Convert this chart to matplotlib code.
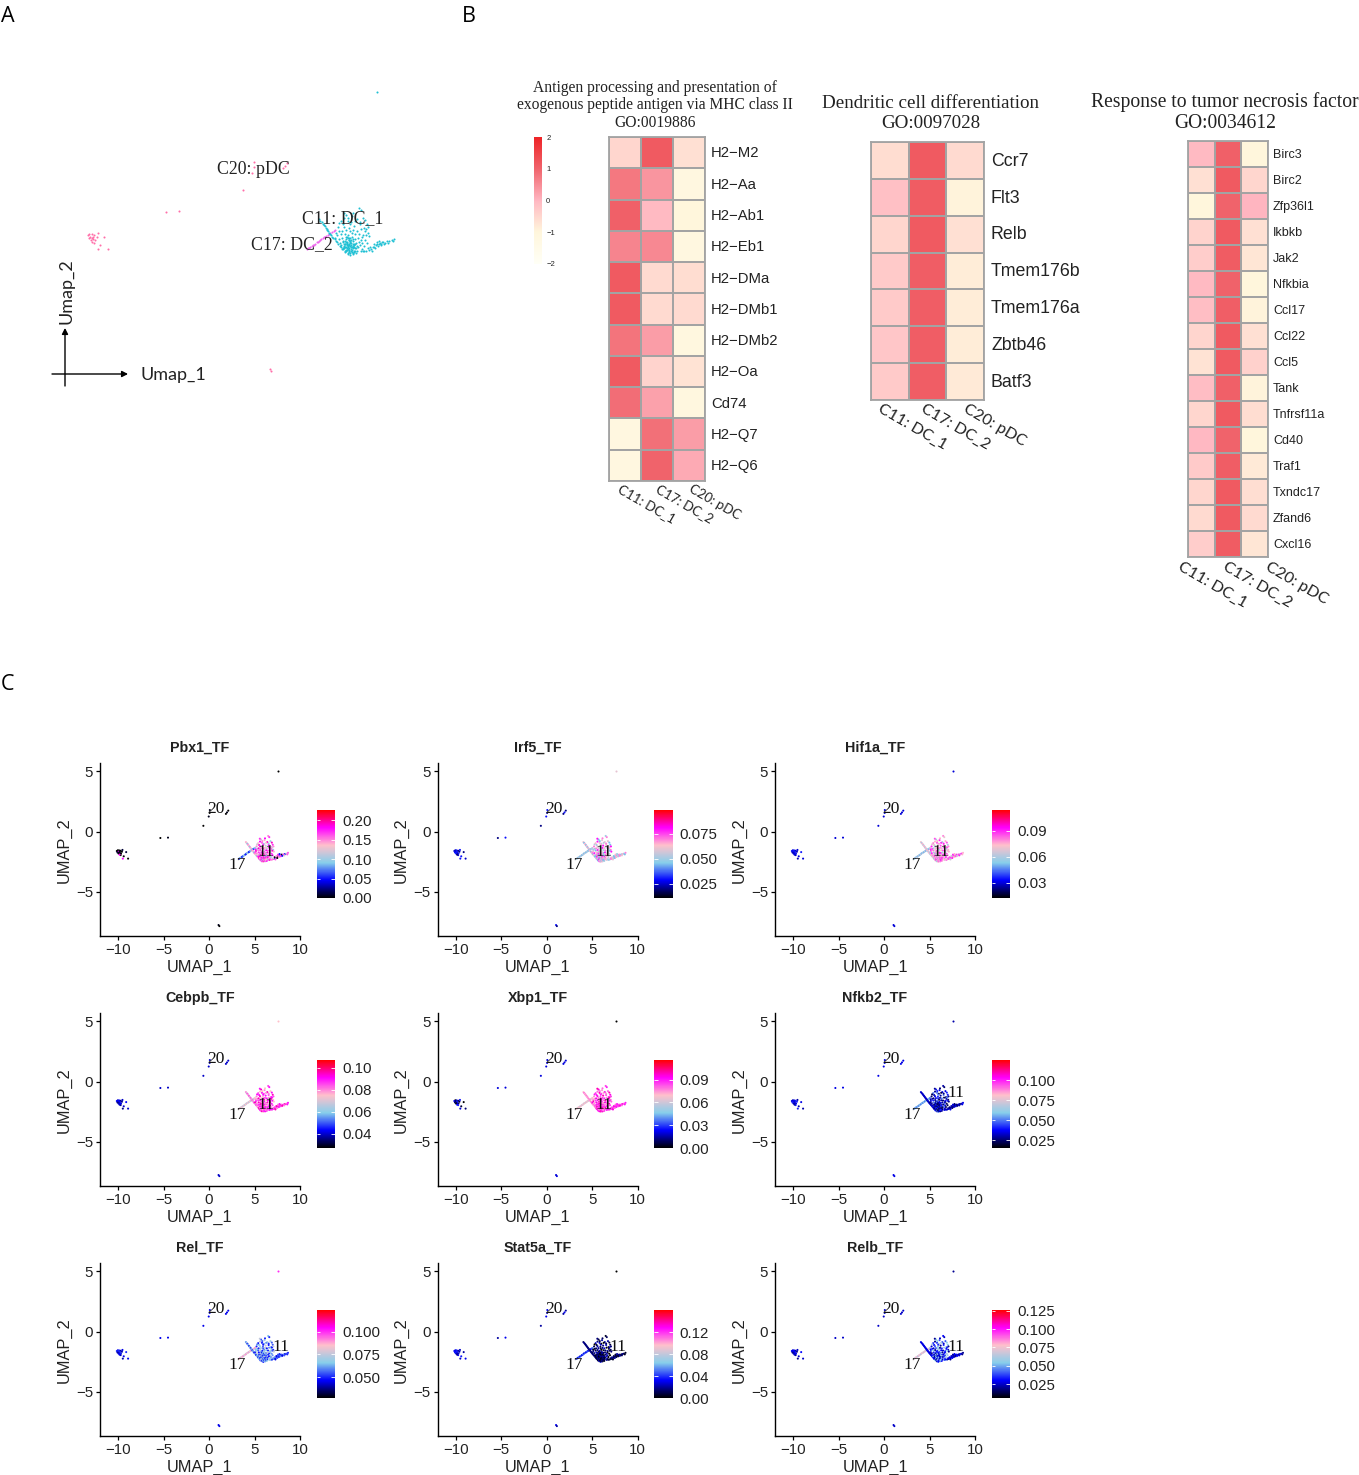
import matplotlib
matplotlib.use("Agg")
import matplotlib.pyplot as plt
from matplotlib.colors import LinearSegmentedColormap, Normalize
from matplotlib.cm import ScalarMappable

W, H = 1359, 1475

# ---------- cell coordinates in UMAP space ----------
left_x = [-10.04,-9.90,-9.73,-9.53,-10.0,-9.90,-9.79,-9.69,-9.73,-9.39,-9.12,-9.49,-8.91,-9.83,-9.59,-9.96,-10.15,-10.08,-9.85]
left_y = [-1.54,-1.55,-1.58,-1.51,-1.66,-1.74,-1.78,-1.81,-1.94,-2.04,-1.69,-2.23,-2.23,-1.66,-1.66,-1.81,-1.6,-1.72,-1.9]
mid_x = [-5.36,-4.52,-0.63,0.08,0.06,-0.04,2.11,1.97,1.85,1.04,1.13]
mid_y = [-0.52,-0.49,0.49,1.80,1.56,1.26,1.75,1.60,1.48,-7.74,-7.83]
top_x = [7.63]
top_y = [5.0]
arm17_x = [3.30,3.38,3.45,3.52,3.60,3.68,3.75,3.83,3.90,3.98,4.05,4.12,4.20,4.27,4.35,4.42,4.50,4.58,4.65,4.75,4.85,4.95,5.05]
arm17_y = [-2.25,-2.20,-2.17,-2.13,-2.10,-2.05,-2.03,-1.98,-1.93,-1.90,-1.86,-1.80,-1.77,-1.74,-1.70,-1.66,-1.62,-1.58,-1.54,-1.50,-1.45,-1.40,-1.35]
arm11_x = [4.05,4.13,4.21,4.27,4.33,4.39,4.45,4.51,4.57,4.63,4.69,4.75,4.81,4.87,4.93,5.00,5.08,5.16,5.24,5.32,5.40,5.48]
arm11_y = [-0.86,-0.93,-1.00,-1.06,-1.12,-1.18,-1.24,-1.30,-1.36,-1.42,-1.48,-1.54,-1.60,-1.66,-1.72,-1.79,-1.86,-1.93,-2.00,-2.07,-2.14,-2.22]
core_x = [6.50,6.62,6.10,5.72,5.60,5.82,6.02,5.50,5.22,5.60,5.92,6.22,6.55,6.82,5.30,5.45,5.70,5.95,6.15,6.35,6.60,6.85,7.05,5.15,5.40,5.62,5.85,6.05,6.28,6.48,6.72,6.95,5.25,5.48,5.68,5.78,5.92,6.08,6.25,6.42,6.62,6.88,5.35,5.52,5.64,5.74,5.86,5.98,6.12,6.30,6.50,6.70,5.42,5.56,5.66,5.76,5.84,5.94,6.04,6.18,6.36,6.58,6.80,5.50,5.60,5.70,5.80,5.90,6.00,6.14,6.26,6.44,6.66,5.62,5.74,5.88,6.02,6.20,6.40,6.62,6.84,5.80,5.96,6.16,6.34,
          5.55,5.63,5.71,5.79,5.87,5.95,6.03,6.11,6.19,6.27,5.58,5.66,5.74,5.82,5.90,5.98,6.06,6.14,6.22,6.30,5.52,5.60,5.68,5.76,5.84,5.92,6.00,6.08,6.16,6.24,5.65,5.73,5.81,5.89,5.97,6.05,6.13,6.21,5.72,5.80,5.88,5.96,6.04,6.12,7.00,7.12,6.92,6.98,6.76,6.55,6.40,5.85,5.58,5.40,5.28,5.12,5.05,6.75,6.90,7.08,5.95,6.28,6.70,6.15]
core_y = [-0.35,-0.45,-0.70,-0.65,-0.82,-0.92,-1.0,-1.10,-1.22,-1.2,-1.25,-1.15,-1.1,-1.28,-1.42,-1.38,-1.36,-1.40,-1.34,-1.38,-1.32,-1.42,-1.5,-1.60,-1.56,-1.52,-1.58,-1.50,-1.54,-1.56,-1.6,-1.58,-1.78,-1.72,-1.70,-1.66,-1.74,-1.68,-1.76,-1.72,-1.8,-1.82,-1.95,-1.88,-1.84,-1.9,-1.82,-1.92,-1.86,-1.94,-1.9,-1.96,-2.05,-2.0,-2.02,-1.98,-2.06,-1.96,-2.04,-2.0,-2.08,-2.04,-2.1,-2.18,-2.12,-2.16,-2.1,-2.2,-2.14,-2.12,-2.2,-2.16,-2.22,-2.32,-2.28,-2.34,-2.3,-2.36,-2.3,-2.34,-2.32,-2.45,-2.5,-2.46,-2.42,
          -1.93,-1.98,-1.90,-1.96,-2.02,-1.88,-1.94,-2.00,-2.06,-1.98,-2.08,-2.14,-2.06,-2.12,-2.04,-2.10,-2.16,-2.08,-2.14,-2.20,-2.24,-2.20,-2.26,-2.18,-2.24,-2.28,-2.22,-2.26,-2.20,-2.30,-2.38,-2.34,-2.40,-2.36,-2.42,-2.38,-2.40,-2.34,-1.78,-1.72,-1.80,-1.74,-1.82,-1.76,-1.08,-1.65,-1.30,-1.95,-2.30,-0.98,-0.86,-0.78,-0.58,-0.95,-1.05,-1.48,-1.72,-0.78,-0.90,-1.22,-1.08,-0.92,-1.70,-0.55]
right_x = [6.95,7.10,7.25,7.35,7.45,7.55,7.62,7.70,7.78,7.85,7.92,8.00,8.10,8.22,8.35,8.50,8.68,7.20,7.40,7.58,7.75,7.05,7.30,7.50,7.68,7.88,8.05,8.28,8.60]
right_y = [-2.30,-2.26,-2.22,-2.15,-2.12,-2.05,-2.0,-2.02,-1.95,-1.98,-1.92,-1.9,-1.95,-1.88,-1.85,-1.82,-1.75,-2.12,-2.02,-1.9,-1.85,-2.2,-2.3,-2.18,-2.1,-2.04,-2.0,-1.96,-1.88]

# ---------- heatmap data ----------
clusters = ["C11: DC_1", "C17: DC_2", "C20: pDC"]
mhc_genes = ["H2\u2212M2","H2\u2212Aa","H2\u2212Ab1","H2\u2212Eb1","H2\u2212DMa","H2\u2212DMb1","H2\u2212DMb2","H2\u2212Oa","Cd74","H2\u2212Q7","H2\u2212Q6"]
mhc_z = [[-0.50,1.15,-0.65],[0.75,0.40,-1.15],[1.05,-0.05,-1.0],[0.60,0.55,-1.15],[1.15,-0.55,-0.60],[1.15,-0.55,-0.55],
         [0.80,0.30,-1.12],[1.15,-0.45,-0.70],[0.88,0.25,-1.12],[-1.15,0.85,0.30],[-1.15,1.00,0.15]]
dc_genes = ["Ccr7","Flt3","Relb","Tmem176b","Tmem176a","Zbtb46","Batf3"]
dc_z = [[-0.60,1.15,-0.55],[-0.15,1.12,-0.95],[-0.50,1.15,-0.65],[-0.30,1.10,-0.85],[-0.30,1.10,-0.85],[-0.25,1.10,-0.85],[-0.30,1.10,-0.80]]
tnf_genes = ["Birc3","Birc2","Zfp36l1","Ikbkb","Jak2","Nfkbia","Ccl17","Ccl22","Ccl5","Tank","Tnfrsf11a","Cd40","Traf1","Txndc17","Zfand6","Cxcl16"]
tnf_z = [[-0.05,1.05,-1.0],[-0.65,1.15,-0.50],[-1.0,1.0,0.0],[-0.45,1.15,-0.65],[-0.35,1.12,-0.75],[-0.05,1.03,-1.0],
         [-0.12,1.08,-0.95],[-0.48,1.15,-0.65],[-0.70,1.15,-0.42],[-0.10,1.05,-0.95],[-0.50,1.15,-0.60],[-0.03,1.0,-1.0],
         [-0.30,1.10,-0.80],[-0.50,1.15,-0.62],[-0.55,1.15,-0.55],[-0.35,1.12,-0.75]]

# ---------- TF activity per cell group, per panel ----------
tf_names = ["Pbx1_TF","Irf5_TF","Hif1a_TF","Cebpb_TF","Xbp1_TF","Nfkb2_TF","Rel_TF","Stat5a_TF","Relb_TF"]
pbx1 = dict(left=[0,0,0,.01,.18,0,.005], mid=[0,.005], top=[0], arm17=[.05,.07,.09,.10,.06], arm11=[.14,.13,.09,.15], core=[.15,.17,.14,.12,.18,.16,.10,.19], right=[.15,.17,.05,.12,.16,0])
irf5 = dict(left=[.025,.03,.02,.03], mid=[.02,.03], top=[.06], arm17=[.05,.055,.045], arm11=[.06,.045,.065], core=[.05,.07,.06,.045,.08,.065,.055], right=[.05,.07,.06,.045,.065])
hif1a = dict(left=[.03,.035,.028], mid=[.03], top=[.03], arm17=[.055,.065,.05], arm11=[.07,.06,.075], core=[.08,.07,.09,.06,.075,.085], right=[.075,.085,.065,.09])
cebpb = dict(left=[.04,.043,.036], mid=[.04], top=[.075], arm17=[.07,.075,.065], arm11=[.08,.07,.085], core=[.085,.09,.08,.095,.075,.09], right=[.09,.085,.095,.08])
xbp1 = dict(left=[0,.02,.01,.025,.005], mid=[.02], top=[0], arm17=[.065,.07,.06], arm11=[.07,.08], core=[.085,.09,.075,.095,.08,.10], right=[.09,.085,.095,.08])
nfkb2 = dict(left=[.03,.035,.04], mid=[.035], top=[.03], arm17=[.055,.05,.06], arm11=[.035,.03], core=[.03,.025,.035,.04,.028,.05,.022], right=[.03,.035,.025])
rel = dict(left=[.045,.05,.04], mid=[.045], top=[.10], arm17=[.085,.08,.09,.075], arm11=[.06,.07,.05], core=[.065,.05,.07,.055,.075,.048,.06], right=[.05,.06,.045,.055])
stat5a = dict(left=[.03,.035,.02,.025], mid=[.02,.03], top=[0], arm17=[.04,.05,.03], arm11=[.012,.02], core=[.005,.012,.02,.008,.015,.025,0], right=[.01,.005,.02])
relb = dict(left=[.025,.03,.02], mid=[.025], top=[.02], arm17=[.07,.075,.06,.08], arm11=[.03,.025], core=[.03,.025,.04,.055,.02,.035,.06], right=[.025,.02,.03])
tf_values = [pbx1, irf5, hif1a, cebpb, xbp1, nfkb2, rel, stat5a, relb]
tf_vmin = [0,.011,.0127,.0273,0,.015,.027,0,.006]
tf_vmax = [.226,.099,.114,.107,.116,.125,.124,.16,.126]
tf_ticks = [[0,.05,.10,.15,.20],[.025,.05,.075],[.03,.06,.09],[.04,.06,.08,.10],[0,.03,.06,.09],
            [.025,.05,.075,.10],[.05,.075,.10],[0,.04,.08,.12],[.025,.05,.075,.10,.125]]
tf_fmt = ["%.2f","%.3f","%.2f","%.2f","%.2f","%.3f","%.3f","%.2f","%.3f"]
label11_x = [6.26,6.26,6.26,6.26,6.26,7.85,7.85,7.85,7.85]
label11_y = [-1.7,-1.7,-1.7,-1.95,-1.95,-0.95,-1.25,-1.25,-1.25]

groups = [("left",left_x,left_y),("mid",mid_x,mid_y),("top",top_x,top_y),("arm17",arm17_x,arm17_y),
          ("arm11",arm11_x,arm11_y),("core",core_x,core_y),("right",right_x,right_y)]
groupcol = {"left":"#FF6EA9","mid":"#FF6EA9","top":"#1FC0D4","arm17":"#EE66EE","arm11":"#1FC0D4","core":"#1FC0D4","right":"#1FC0D4"}

SERIF = "Liberation Serif"
SANS = "Liberation Sans"
plt.rcParams["font.family"] = SANS
fig = plt.figure(figsize=(W/100, H/100), dpi=100)

def rect(l, t, r, b):
    return [l/W, 1-b/H, (r-l)/W, (b-t)/H]
def ftext(x, y, s, **kw):
    kw.setdefault("ha", "center"); kw.setdefault("va", "center")
    return fig.text(x/W, 1-y/H, s, **kw)

for s, x, y in [("A",8,16),("B",469,16),("C",8,684)]:
    ftext(x, y, s, fontsize=15.5, family="Open Sans")

# ---------- Panel A ----------
axA = fig.add_axes([0,0,1,1]); axA.axis("off")
# UMAP 0,0 sits at pixel (253,200.6); 16.3 px per unit in x, 21.7 in y
axA.set_xlim(-253/16.3, (W-253)/16.3)
axA.set_ylim(-(H-200.6)/21.7, 200.6/21.7)
for name, xs, ys in groups:
    axA.scatter(xs, ys, s=2.2, color=groupcol[name], linewidths=0)
for x, y, s in [(253,170,"C20: pDC"),(343,219,"C11: DC_1"),(292,245,"C17: DC_2")]:
    ftext(x, y, s, fontsize=12.8, family=SERIF, color="#222222")
arrow = dict(arrowstyle="-|>,head_width=0.18,head_length=0.35", lw=1, color="black", shrinkA=0, shrinkB=0)
axA.annotate("", xy=(128/W,1-374/H), xytext=(52/W,1-374/H), xycoords="figure fraction", textcoords="figure fraction", arrowprops=arrow)
axA.annotate("", xy=(65/W,1-328/H), xytext=(65/W,1-386/H), xycoords="figure fraction", textcoords="figure fraction", arrowprops=arrow)
ftext(173, 375, "Umap_1", fontsize=13, family="Lato", color="#222222")
ftext(66, 291, "Umap_2", fontsize=13, family="Lato", rotation=90, color="#222222")

# ---------- Panel B ----------
heat_cmap = LinearSegmentedColormap.from_list("heat", [(0,"#FFFFF6"),(.25,"#FFF6DC"),(.5,"#FFB6C1"),(.75,"#F0646C"),(1,"#EE2326")])
heat_norm = Normalize(-2, 2)

def heat(z, genes, l, t, r, b, genefs, gene_x, colstart, coly, colfs):
    ax = fig.add_axes(rect(l, t, r, b))
    ax.pcolormesh(z, cmap=heat_cmap, norm=heat_norm, edgecolors="#A3A3A3", linewidth=1.3)
    ax.set_ylim(len(genes), 0); ax.set_xlim(0, 3)
    ax.set_xticks([]); ax.set_yticks([])
    for sp in ax.spines.values():
        sp.set_color("#A3A3A3"); sp.set_linewidth(1.3)
    rh = (b-t)/len(genes)
    for i, g in enumerate(genes):
        ftext(gene_x, t+rh*(i+.5)+0.8, g, ha="left", fontsize=genefs, color="#222222")
    for c, xs in zip(clusters, colstart):
        ftext(xs, coly, c, ha="left", va="top", rotation=-30, rotation_mode="anchor", fontsize=colfs, family="Lato", color="#222222")

heat(mhc_z, mhc_genes, 609, 137, 705, 481, 10.7, 711, [622,660,693], 483, 9.5)
heat(dc_z, dc_genes, 871, 142, 984, 400, 12.8, 991, [883,926,968], 402, 11.5)
heat(tnf_z, tnf_genes, 1188, 141, 1268, 557, 9, 1273, [1183,1228,1270], 560, 11.5)

for lines, ys, cx, fs in [
    (["Antigen processing and presentation of","exogenous peptide antigen via MHC class II","GO:0019886"],[88,105,123],655,11.2),
    (["Dendritic cell differentiation","GO:0097028"],[103,123],931,13.7),
    (["Response to tumor necrosis factor","GO:0034612"],[102,123],1225,14.1)]:
    for s, y in zip(lines, ys):
        ftext(cx, y, s, fontsize=fs, family=SERIF, color="#222222")

cb = fig.add_axes(rect(533.5, 137, 542, 264))
fig.colorbar(ScalarMappable(heat_norm, heat_cmap), cax=cb, ticks=[-2,-1,0,1,2])
cb.set_yticklabels(["\u22122","\u22121","0","1","2"])
cb.tick_params(length=0, labelsize=5.5, pad=3, labelcolor="#222222")
cb.spines[:].set_visible(False)

# ---------- Panel C ----------
tf_cmap = LinearSegmentedColormap.from_list("tf", ["black","blue","skyblue","pink","magenta","red"])
col_left = [100, 437.5, 775]
row_top = [763, 1013, 1263]

for k, name in enumerate(tf_names):
    r, c = divmod(k, 3)
    l, t = col_left[c], row_top[r]
    ax = fig.add_axes(rect(l, t, l+200, t+173))
    norm = Normalize(tf_vmin[k], tf_vmax[k])
    vals = tf_values[k]
    for g, xs, ys in groups:
        lst = vals[g]
        cv = [lst[i % len(lst)] for i in range(len(xs))]
        ax.scatter(xs, ys, c=cv, s=2.2, cmap=tf_cmap, norm=norm, linewidths=0)
    ax.set_xlim(-12, 10); ax.set_ylim(-8.65, 5.7)
    ax.set_xticks([-10,-5,0,5,10]); ax.set_yticks([-5,0,5])
    ax.set_xticklabels(["\u221210","\u22125","0","5","10"]); ax.set_yticklabels(["\u22125","0","5"])
    ax.tick_params(labelsize=10.8, length=3, width=0.9, pad=2, labelcolor="#222222")
    for sp in ["top","right"]:
        ax.spines[sp].set_visible(False)
    for sp in ["left","bottom"]:
        ax.spines[sp].set_linewidth(1)
    ftext(l+100, t+204, "UMAP_1", fontsize=11.8, color="#222222")
    ftext(l-36, t+87, "UMAP_2", fontsize=11.8, rotation=90, color="#222222")
    ftext(l+100, t-15, name, fontsize=10.3, fontweight="bold", color="#222222")
    ax.text(0.76, 1.88, "20", family=SERIF, fontsize=12.5, ha="center", va="center", color="#111111")
    ax.text(3.07, -2.76, "17", family=SERIF, fontsize=12.5, ha="center", va="center", color="#111111")
    ax.text(label11_x[k], label11_y[k], "11", family=SERIF, fontsize=12.5, ha="center", va="center", color="#111111")
    cax = fig.add_axes(rect(l+216.7, t+47, l+235, t+135))
    fig.colorbar(ScalarMappable(norm, tf_cmap), cax=cax, ticks=tf_ticks[k], format=tf_fmt[k])
    cax.spines[:].set_visible(False)
    cax.tick_params(length=0, labelsize=10.8, pad=5, labelcolor="#222222")
    cax.hlines(tf_ticks[k], 0, .2, transform=cax.get_yaxis_transform(), colors="white", lw=.6)
    cax.hlines(tf_ticks[k], .8, 1, transform=cax.get_yaxis_transform(), colors="white", lw=.6)

fig.savefig("out.png", dpi=100, facecolor="white")
